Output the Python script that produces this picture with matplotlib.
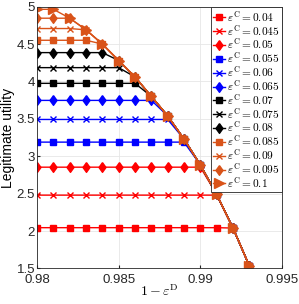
import numpy as np
import matplotlib
matplotlib.use("Agg")
import matplotlib.pyplot as plt

plt.rcParams['mathtext.fontset'] = 'cm'
plt.rcParams['font.family'] = ['Liberation Sans', 'DejaVu Sans']

x_vals = [0.980, 0.981, 0.982, 0.983, 0.984, 0.985, 0.986, 0.987,
          0.988, 0.989, 0.990, 0.991, 0.992, 0.993]
# upper envelope of the curves (where all series merge)
envelope = [5.2, 5.2, 4.846, 4.69, 4.50, 4.28, 4.06, 3.80,
            3.54, 3.23, 2.885, 2.49, 2.04, 1.535]
eps_c = [0.04, 0.045, 0.05, 0.055, 0.06, 0.065, 0.07, 0.075,
         0.08, 0.085, 0.09, 0.095, 0.1]
plateau = [2.045, 2.48, 2.854, 3.189, 3.492, 3.747, 3.975, 4.185,
           4.386, 4.551, 4.708, 4.846, 4.965]
colors = ['#FF0000'] * 3 + ['#0000FF'] * 3 + ['#000000'] * 3 + ['#D95319'] * 4
markers = ['s', 'x', 'dia', 's', 'x', 'dia', 's', 'x', 'dia', 's', 'x', 'dia', '>']

diamond = [(0, 1), (0.72, 0), (0, -1), (-0.72, 0), (0, 1)]

fig = plt.figure(figsize=(2.99, 3.04), dpi=100)
ax = fig.add_axes([0.124, 0.117, 0.819, 0.861])

env = np.array(envelope)
for c, v, col, m in zip(eps_c, plateau, colors, markers):
    y = np.minimum(v, env)
    if m == 's':
        mk, ms = 's', 4.3
    elif m == 'x':
        mk, ms = 'x', 4.0
    elif m == 'dia':
        mk, ms = diamond, 7.0
    else:
        mk, ms = '>', 6.5
    ax.plot(x_vals, y, color=col, marker=mk, markersize=ms, linewidth=1.0,
            markeredgewidth=1.0, label=r'$\varepsilon^{\rm C} = %s$' % c)

ax.set_xlim(0.98, 0.995)
ax.set_ylim(1.5, 5)
ax.set_xticks([0.98, 0.985, 0.99, 0.995])
ax.set_xticklabels(['0.98', '0.985', '0.99', '0.995'])
ax.set_yticks([1.5, 2, 2.5, 3, 3.5, 4, 4.5, 5])
ax.set_yticklabels(['1.5', '2', '2.5', '3', '3.5', '4', '4.5', '5'])
ax.tick_params(labelsize=9.5, direction='in', length=2, colors='#262626', pad=1.5)
ax.tick_params(axis='x', pad=4)
ax.grid(True, color='#E6E6E6', linewidth=0.6)
ax.set_axisbelow(True)
for s in ax.spines.values():
    s.set_color('#262626')
    s.set_linewidth(0.6)
ax.set_xlabel(r'$1-\varepsilon^{\rm D}$', fontsize=10, labelpad=-2)
ax.set_ylabel('Legitimate utility', fontsize=10, labelpad=1)

leg = ax.legend(loc='upper right', fontsize=8.2, handlelength=1.05,
                handletextpad=0.15, labelspacing=-0.08, borderpad=0.2,
                borderaxespad=0.0, frameon=True, fancybox=False,
                edgecolor='#262626', framealpha=1.0)
leg.get_frame().set_linewidth(0.6)

fig.savefig('out.png', dpi=100)
